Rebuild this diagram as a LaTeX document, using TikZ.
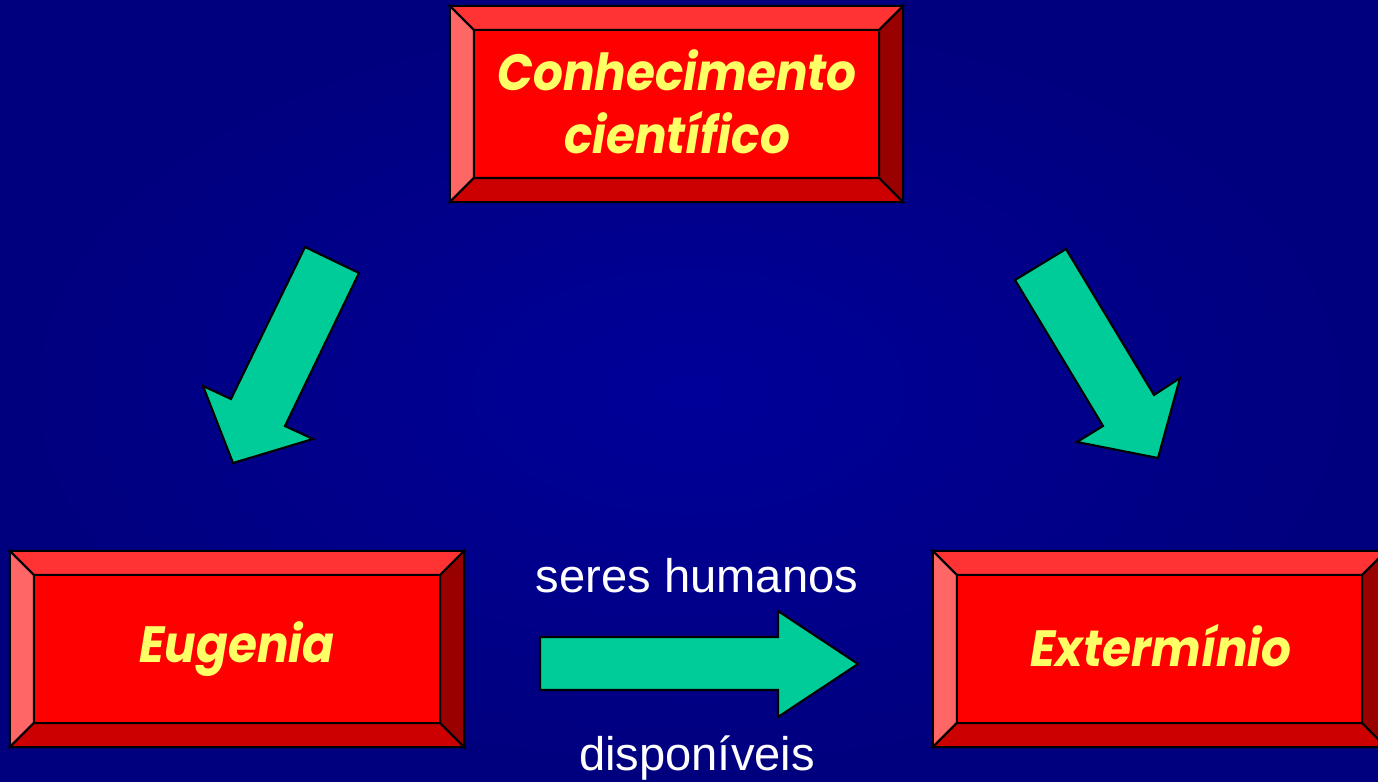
\documentclass[tikz,border=0pt]{standalone}
\usepackage{graphicx}
\usepackage{fontspec}
\setmainfont{Liberation Sans}
\newfontfamily\comicfont{Poppins}
\usetikzlibrary{calc}
\definecolor{bgin}{HTML}{000099}
\definecolor{bgout}{HTML}{00007E}
\definecolor{bvtop}{HTML}{FF3333}
\definecolor{bvleft}{HTML}{FF6666}
\definecolor{bvbot}{HTML}{CC0000}
\definecolor{bvright}{HTML}{990000}
\definecolor{bvface}{HTML}{FF0000}
\definecolor{txtyellow}{HTML}{FFFF66}
\definecolor{arrowgreen}{HTML}{00CC99}
\newcommand\narrowtxt[1]{\scalebox{0.92}[1]{#1}}
\tikzset{
  boxgeom/.style={inner sep=0pt, outer sep=0pt, draw=none},
  bevelpart/.style={draw=black, line width=0.6pt, line join=miter},
  boxtext/.style={text=txtyellow, align=center, font=\comicfont\bfseries\itshape\fontsize{14.5pt}{18pt}\selectfont},
  blockarrow/.style={fill=arrowgreen, draw=black, line width=0.6pt, line join=miter},
  labeltext/.style={text=white, font=\fontsize{13.4pt}{16pt}\selectfont, inner sep=0pt, anchor=base}
}
\newcommand\bevelof[1]{%
  \coordinate (iNW) at ($(#1.north west)+(24,24)$);
  \coordinate (iNE) at ($(#1.north east)+(-24,24)$);
  \coordinate (iSW) at ($(#1.south west)+(24,-24)$);
  \coordinate (iSE) at ($(#1.south east)+(-24,-24)$);
  \fill[bvface] (iNW) rectangle (iSE);
  \draw[bevelpart, fill=bvtop] (#1.north west) -- (#1.north east) -- (iNE) -- (iNW) -- cycle;
  \draw[bevelpart, fill=bvleft] (#1.north west) -- (iNW) -- (iSW) -- (#1.south west) -- cycle;
  \draw[bevelpart, fill=bvbot] (#1.south west) -- (iSW) -- (iSE) -- (#1.south east) -- cycle;
  \draw[bevelpart, fill=bvright] (#1.north east) -- (#1.south east) -- (iSE) -- (iNE) -- cycle;
  \draw[bevelpart] (iNW) rectangle (iSE);
}
\begin{document}
\begin{tikzpicture}[x=0.01cm, y=-0.01cm]
\useasboundingbox (0,0) rectangle (1378,782);
\clip (0,0) rectangle (1378,782);
\shade[inner color=bgin, outer color=bgout] (0,0) rectangle (1378,782);

% boxes
\node[boxgeom, minimum width=4.53cm, minimum height=1.96cm] (top) at (676.5,104) {};
\bevelof{top}
\node[boxtext] (toptext) at (677,102) {\narrowtxt{Conhecimento}\\\narrowtxt{científico}};

\node[boxgeom, minimum width=4.54cm, minimum height=1.96cm] (eug) at (237,649) {};
\bevelof{eug}
\node[boxtext] (eugtext) at (eug) {\narrowtxt{Eugenia}};

\node[boxgeom, minimum width=4.53cm, minimum height=1.96cm] (ext) at (1159.5,649) {};
\bevelof{ext}
\node[boxtext] (exttext) at (1161,646) {\narrowtxt{Extermínio}};

% block arrows
\draw[blockarrow] (305,247) -- (359,273) -- (285,426) -- (313,439) -- (233,463) -- (203,386) -- (231,399) -- cycle;
\draw[blockarrow] (1015,280) -- (1066,249) -- (1154,395) -- (1180,378) -- (1158,458) -- (1077,442) -- (1103,426) -- cycle;
\draw[blockarrow] (540,637) -- (778,637) -- (778,611) -- (858,664) -- (778,717) -- (778,690) -- (540,690) -- cycle;

% labels
\node[labeltext] (lab1) at (697,593) {seres humanos};
\node[labeltext] (lab2) at (697,770) {disponíveis};
\end{tikzpicture}
\end{document}
